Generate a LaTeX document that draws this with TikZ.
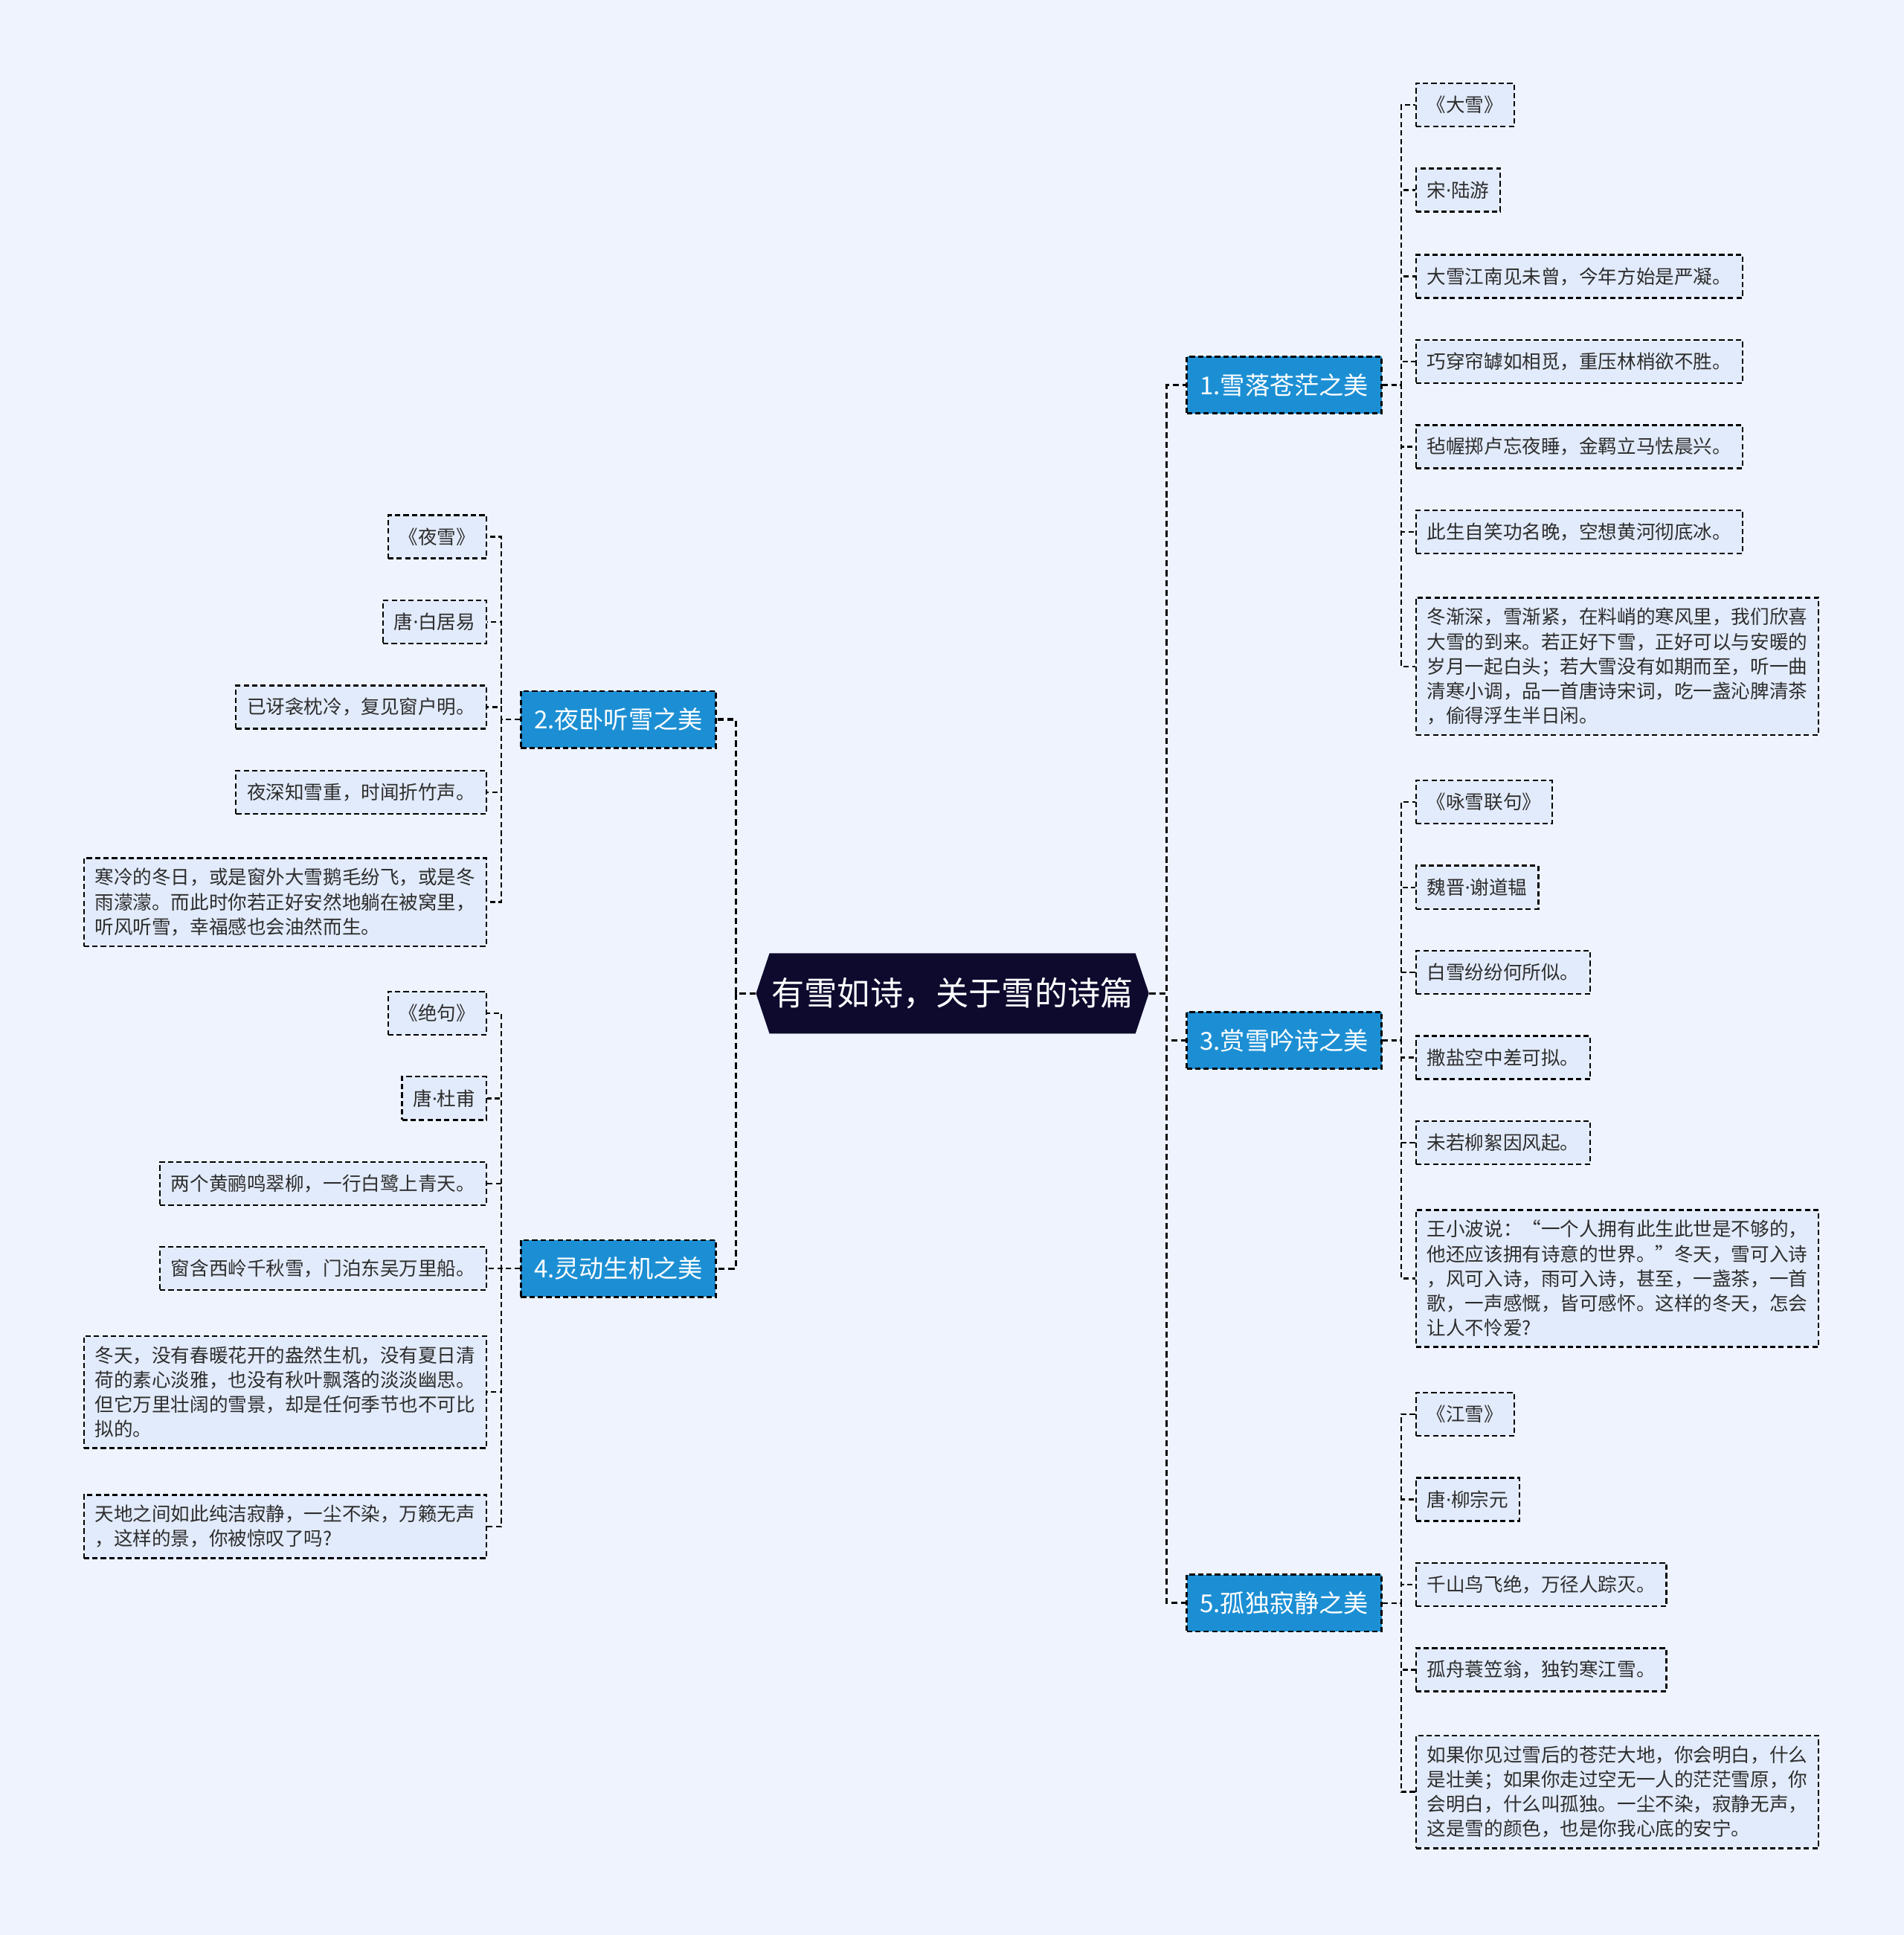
\documentclass[tikz,border=0pt]{standalone}
\usepackage{fontspec}
\setmainfont{Noto Sans CJK SC}
\newfontfamily\latinfont{Noto Sans}
\newcommand{\namedot}{{\latinfont ·}}
\usepackage{tikz}
\usetikzlibrary{shapes.symbols}

\definecolor{bgColor}{RGB}{238,243,254}
\definecolor{leafColor}{RGB}{226,235,251}
\definecolor{branchColor}{RGB}{28,143,212}
\definecolor{rootColor}{RGB}{13,10,46}
\definecolor{textColor}{RGB}{45,45,45}

\begin{document}
\begin{tikzpicture}[x=0.6pt,y=-0.6pt,
  leaf/.style={draw=black,line width=0.85pt,dash pattern=on 2.6pt off 1.5pt,fill=leafColor,text=textColor,
    font=\fontsize{9.25}{12}\selectfont,inner xsep=5.4pt,inner ysep=5pt,minimum height=21pt,align=left},
  branch/.style={draw=black,line width=1pt,dash pattern=on 2.6pt off 1.5pt,fill=branchColor,text=white,
    font=\fontsize{12}{14}\selectfont,inner xsep=6.4pt,minimum height=27.6pt},
  root/.style={shape=signal,signal to=east and west,signal pointer angle=143,fill=rootColor,text=white,
    font=\fontsize{16}{19}\selectfont,inner xsep=1pt,minimum height=39pt},
  trunk/.style={line width=1.2pt,dash pattern=on 3pt off 1.8pt},
  twig/.style={line width=0.85pt,dash pattern=on 2.6pt off 1.6pt}]
\fill[bgColor] (0,0) rectangle (1543,1568);
\useasboundingbox (0,0) rectangle (1543,1568);

% centre and main topics
\node[root] (root) at (772,805) {有雪如诗，关于雪的诗篇};
\node[branch,anchor=west] (b1) at (961,312) {1.雪落苍茫之美};
\node[branch,anchor=east] (b2) at (581,583) {2.夜卧听雪之美};
\node[branch,anchor=west] (b3) at (961,843) {3.赏雪吟诗之美};
\node[branch,anchor=east] (b4) at (581,1028) {4.灵动生机之美};
\node[branch,anchor=west] (b5) at (961,1299) {5.孤独寂静之美};

\foreach \b in {b1,b3,b5}
  \draw[trunk] (root.east) -- ++(14,0) |- (\b.west);
\foreach \b in {b2,b4}
  \draw[trunk] (root.west) -- ++(-16,0) |- (\b.east);

% right hand leaves
\foreach \i/\y/\txt in {1/85/{《大雪》},2/154/{宋\namedot 陆游},3/224/{大雪江南见未曾，今年方始是严凝。},
    4/293/{巧穿帘罅如相觅，重压林梢欲不胜。},5/362/{毡幄掷卢忘夜睡，金羁立马怯晨兴。},
    6/431/{此生自笑功名晚，空想黄河彻底冰。},
    7/540/{冬渐深，雪渐紧，在料峭的寒风里，我们欣喜\\大雪的到来。若正好下雪，正好可以与安暖的\\岁月一起白头；若大雪没有如期而至，听一曲\\清寒小调，品一首唐诗宋词，吃一盏沁脾清茶\\，偷得浮生半日闲。}}
  \node[leaf,anchor=west] (l1\i) at (1147,\y) {\txt};
\foreach \i in {1,...,7}
  \draw[twig] (b1.east) -- ++(15,0) |- (l1\i.west);

\foreach \i/\y/\txt in {1/650/{《咏雪联句》},2/719/{魏晋\namedot 谢道韫},3/788/{白雪纷纷何所似。},
    4/857/{撒盐空中差可拟。},5/926/{未若柳絮因风起。},
    6/1036/{王小波说：“一个人拥有此生此世是不够的，\\他还应该拥有诗意的世界。”冬天，雪可入诗\\，风可入诗，雨可入诗，甚至，一盏茶，一首\\歌，一声感慨，皆可感怀。这样的冬天，怎会\\让人不怜爱?}}
  \node[leaf,anchor=west] (l3\i) at (1147,\y) {\txt};
\foreach \i in {1,...,6}
  \draw[twig] (b3.east) -- ++(15,0) |- (l3\i.west);

\foreach \i/\y/\txt in {1/1146/{《江雪》},2/1215/{唐\namedot 柳宗元},3/1284/{千山鸟飞绝，万径人踪灭。},
    4/1353/{孤舟蓑笠翁，独钓寒江雪。},
    5/1452/{如果你见过雪后的苍茫大地，你会明白，什么\\是壮美；如果你走过空无一人的茫茫雪原，你\\会明白，什么叫孤独。一尘不染，寂静无声，\\这是雪的颜色，也是你我心底的安宁。}}
  \node[leaf,anchor=west] (l5\i) at (1147,\y) {\txt};
\foreach \i in {1,...,5}
  \draw[twig] (b5.east) -- ++(15,0) |- (l5\i.west);

% left hand leaves
\foreach \i/\y/\txt in {1/435/{《夜雪》},2/504/{唐\namedot 白居易},3/573/{已讶衾枕冷，复见窗户明。},
    4/642/{夜深知雪重，时闻折竹声。},
    5/731/{寒冷的冬日，或是窗外大雪鹅毛纷飞，或是冬\\雨濛濛。而此时你若正好安然地躺在被窝里，\\听风听雪，幸福感也会油然而生。}}
  \node[leaf,anchor=east] (l2\i) at (395,\y) {\txt};
\foreach \i in {1,...,5}
  \draw[twig] (b2.west) -- ++(-15,0) |- (l2\i.east);

\foreach \i/\y/\txt in {1/821/{《绝句》},2/890/{唐\namedot 杜甫},3/959/{两个黄鹂鸣翠柳，一行白鹭上青天。},
    4/1028/{窗含西岭千秋雪，门泊东吴万里船。},
    5/1128/{冬天，没有春暖花开的盎然生机，没有夏日清\\荷的素心淡雅，也没有秋叶飘落的淡淡幽思。\\但它万里壮阔的雪景，却是任何季节也不可比\\拟的。},
    6/1237/{天地之间如此纯洁寂静，一尘不染，万籁无声\\，这样的景，你被惊叹了吗?}}
  \node[leaf,anchor=east] (l4\i) at (395,\y) {\txt};
\foreach \i in {1,...,6}
  \draw[twig] (b4.west) -- ++(-15,0) |- (l4\i.east);
\end{tikzpicture}
\end{document}
